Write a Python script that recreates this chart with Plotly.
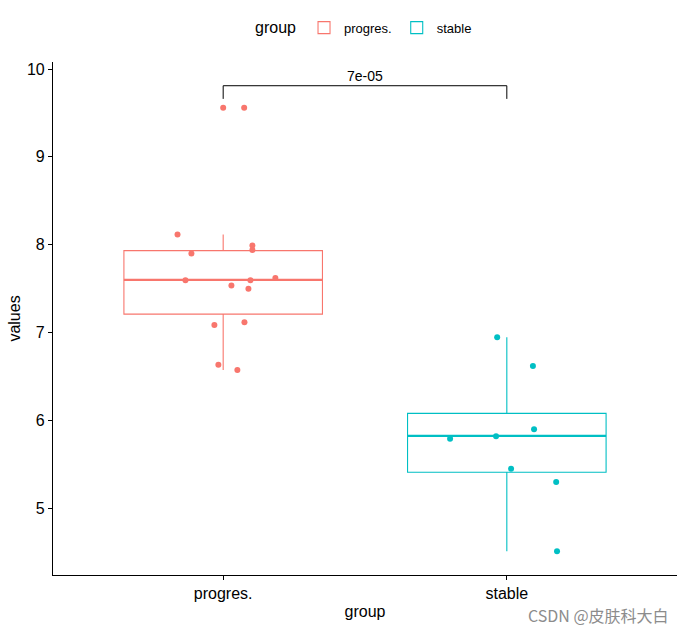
import plotly.graph_objects as go

# ---- data ----
groups = ["progres.", "stable"]
colors = ["#F8766D", "#00BFC4"]

progres_values = [8.115, 7.90, 7.99, 7.94, 7.596, 7.62, 7.596, 7.536, 7.50,
                  7.086, 7.117, 6.633, 6.573, 9.56, 9.56]
progres_jitter = [-0.161, -0.112, 0.103, 0.103, -0.133, 0.184, 0.096, 0.029, 0.089,
                  -0.031, 0.075, -0.017, 0.05, 0.0, 0.074]

stable_values = [6.947, 6.618, 5.90, 5.79, 5.82, 5.45, 5.30, 4.51]
stable_jitter = [-0.034, 0.092, 0.096, -0.2, -0.038, 0.015, 0.174, 0.177]

# box statistics
box_q1 = [7.21, 5.41]
box_median = [7.60, 5.824]
box_q3 = [7.933, 6.08]
box_low = [6.573, 4.51]
box_high = [8.115, 6.947]

p_label = "7e-05"
bracket_y = 9.81
bracket_leg = 9.66

values_list = [progres_values, stable_values]
jitter_list = [progres_jitter, stable_jitter]

fig = go.Figure()
box_w = 0.7
for i, g in enumerate(groups):
    xc = i + 1
    fig.add_trace(go.Box(
        x=[xc], q1=[box_q1[i]], median=[box_median[i]], q3=[box_q3[i]],
        lowerfence=[box_low[i]], upperfence=[box_high[i]],
        width=box_w, whiskerwidth=0, boxpoints=False,
        fillcolor="rgba(255,255,255,0)",
        line=dict(color=colors[i], width=1.1),
        name=g, legendgroup=g, showlegend=True, hoverinfo="skip",
    ))
    # thicker median line (ggplot fatten)
    fig.add_trace(go.Scatter(
        x=[xc - box_w / 2, xc + box_w / 2], y=[box_median[i]] * 2,
        mode="lines", line=dict(color=colors[i], width=2.2),
        showlegend=False, hoverinfo="skip",
    ))
    fig.add_trace(go.Scatter(
        x=[xc + j for j in jitter_list[i]], y=values_list[i],
        mode="markers", marker=dict(color=colors[i], size=6),
        showlegend=False, legendgroup=g, hoverinfo="skip",
    ))

# significance bracket
fig.add_trace(go.Scatter(
    x=[1, 1, 2, 2], y=[bracket_leg, bracket_y, bracket_y, bracket_leg],
    mode="lines", line=dict(color="black", width=1),
    showlegend=False, hoverinfo="skip",
))
fig.add_annotation(x=1.5, y=bracket_y, text=p_label, showarrow=False,
                   yanchor="bottom", yshift=0,
                   font=dict(size=14, color="black"))

fig.add_annotation(xref="paper", yref="paper", x=1.0, y=-0.077, xshift=-6,
                   xanchor="right", yanchor="middle", showarrow=False,
                   text="CSDN @皮肤科大白",
                   font=dict(size=16, color="#8c8c8c",
                             family="Noto Sans CJK SC, Liberation Sans, sans-serif"))

axis_common = dict(
    showline=True, linecolor="black", linewidth=1.2,
    ticks="outside", ticklen=4, tickcolor="black", tickwidth=1,
    showgrid=False, zeroline=False, mirror=False,
    tickfont=dict(size=16, color="black"),
)

fig.update_layout(
    width=685, height=628,
    margin=dict(l=53, r=8, t=62, b=53),
    paper_bgcolor="white", plot_bgcolor="white",
    font=dict(family="Liberation Sans, Arial, sans-serif", color="black"),
    xaxis=dict(range=[0.4, 2.6], tickvals=[1, 2], ticktext=groups,
               title=dict(text="group", font=dict(size=16), standoff=4),
               **axis_common),
    yaxis=dict(range=[4.24, 10.08], tickvals=[5, 6, 7, 8, 9, 10],
               title=dict(text="values", font=dict(size=16), standoff=2),
               **axis_common),
    legend=dict(orientation="h", x=0.5, xanchor="center", y=1.066, yanchor="middle",
                title=dict(text="group", font=dict(size=16)),
                font=dict(size=13), itemwidth=30, traceorder="normal"),
    showlegend=True,
)

fig.write_html("out.html")
